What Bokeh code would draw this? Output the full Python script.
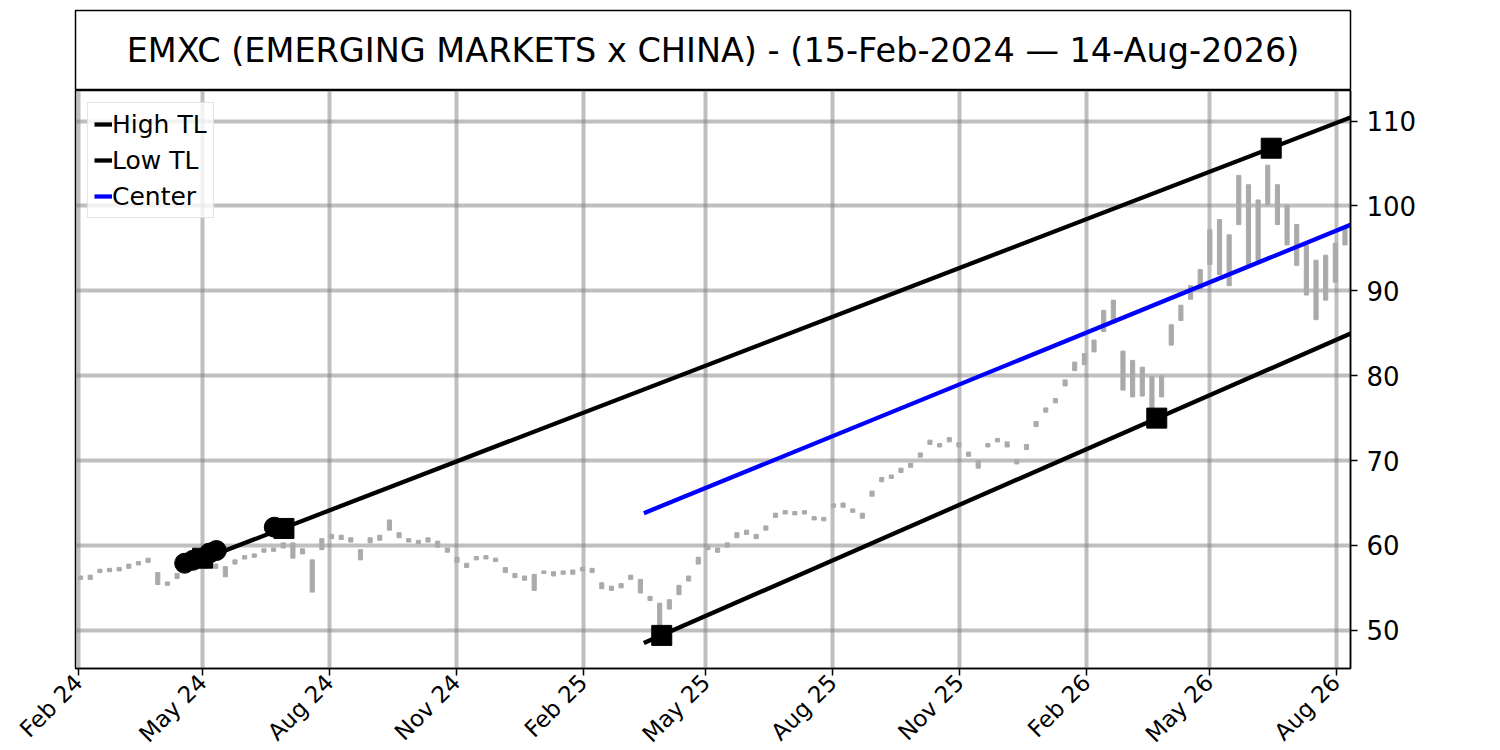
import math
import pandas as pd
from bokeh.plotting import figure
from bokeh.layouts import column
from bokeh.models import Range1d, FixedTicker, Legend, LegendItem, Label, ColumnDataSource, DatetimeTickFormatter
from bokeh.embed import file_html
from bokeh.resources import INLINE

TITLE = "EMXC (EMERGING MARKETS x CHINA) - (15-Feb-2024 \u2014 14-Aug-2026)"

# weekly price ranges (low / high), one entry per week starting at week_start
week_start = "2024-02-01"
lows = [56.0, 56.0, 56.8, 56.9, 57.0, 57.3, 57.7, 58.0, 55.4, 55.3,
        56.1, 57.0, 57.4, 57.3, 57.3, 56.3, 57.8, 58.4, 58.6, 59.2,
        59.3, 59.7, 58.5, 59.0, 54.5, 59.5, 60.8, 60.7, 60.4, 58.3,
        60.3, 60.6, 61.8, 60.9, 60.4, 60.2, 60.4, 59.8, 59.2, 58.0,
        57.4, 58.3, 58.4, 58.1, 56.8, 56.2, 55.9, 54.7, 56.7, 56.4,
        56.6, 56.6, 57.0, 56.8, 54.9, 54.7, 55.0, 56.0, 54.4, 53.5,
        50.2, 52.5, 54.2, 55.8, 57.8, 59.5, 59.2, 59.8, 60.9, 61.3,
        60.8, 61.8, 63.3, 63.7, 63.6, 63.7, 63.0, 62.9, 64.5, 64.5,
        63.9, 63.2, 65.8, 67.5, 67.9, 68.6, 69.2, 70.4, 71.9, 71.6,
        72.2, 71.6, 70.5, 69.1, 71.6, 72.2, 71.6, 69.6, 71.3, 74.0,
        75.7, 76.8, 78.8, 80.6, 81.3, 82.8, 85.2, 86.2, 78.3, 77.5,
        77.6, 75.9, 77.5, 83.6, 86.5, 89.0, 90.2, 93.1, 91.9, 90.6,
        97.8, 93.1, 93.6, 100.1, 97.8, 95.4, 93.0, 89.5, 86.6, 88.9,
        91.0, 95.4]
highs = [56.4, 56.5, 57.2, 57.3, 57.4, 57.8, 58.1, 58.5, 56.8, 55.7,
         56.7, 57.4, 57.8, 57.8, 57.8, 57.5, 58.3, 58.8, 59.0, 59.6,
         59.7, 60.3, 60.3, 59.6, 58.3, 60.8, 61.3, 61.2, 60.9, 59.5,
         60.9, 61.2, 63.0, 61.5, 60.8, 60.6, 60.9, 60.5, 59.7, 58.6,
         57.9, 58.7, 58.8, 58.5, 57.4, 56.7, 56.4, 56.6, 57.0, 56.9,
         57.0, 57.1, 57.4, 57.3, 55.6, 55.2, 55.5, 56.5, 56.0, 54.0,
         53.2, 53.6, 55.3, 56.4, 58.6, 60.0, 59.7, 60.3, 61.5, 61.8,
         61.3, 62.3, 63.8, 64.1, 64.0, 64.1, 63.4, 63.3, 64.9, 65.0,
         64.3, 63.8, 66.4, 68.0, 68.3, 69.1, 69.7, 70.9, 72.4, 72.0,
         72.7, 72.1, 71.0, 70.0, 72.0, 72.6, 72.2, 70.1, 71.9, 74.6,
         76.2, 77.3, 79.5, 81.6, 82.6, 84.2, 87.7, 88.9, 82.9, 81.8,
         81.0, 79.9, 80.0, 86.0, 88.3, 90.6, 92.5, 97.2, 98.4, 96.6,
         103.6, 102.5, 100.7, 104.8, 102.5, 100.1, 97.8, 95.4, 93.6, 94.2,
         95.6, 97.5]

high_tl_dates = ["2024-04-17", "2026-08-12"]
high_tl_vals = [57.5, 110.45]
low_tl_dates = ["2025-03-17", "2026-08-12"]
low_tl_vals = [48.5, 85.0]
center_dates = ["2025-03-17", "2026-08-12"]
center_vals = [63.8, 97.8]

circle_dates = ["2024-04-18", "2024-04-24", "2024-05-06", "2024-05-11", "2024-06-22"]
circle_vals = [57.9, 58.25, 59.1, 59.4, 62.15]
square_dates = ["2024-05-01", "2024-06-29", "2025-03-30", "2026-03-24", "2026-06-15"]
square_vals = [58.5, 62.0, 49.4, 75.0, 106.8]

tick_dates = ["2024-02-01", "2024-05-01", "2024-08-01", "2024-11-01", "2025-02-01",
              "2025-05-01", "2025-08-01", "2025-11-01", "2026-02-01", "2026-05-01",
              "2026-08-01"]
tick_labels = ["Feb 24", "May 24", "Aug 24", "Nov 24", "Feb 25", "May 25",
               "Aug 25", "Nov 25", "Feb 26", "May 26", "Aug 26"]
y_ticks = [50, 60, 70, 80, 90, 100, 110]

x_start = "2024-01-29 20:00"
x_end = "2026-08-11 12:00"
y_min, y_max = 45.5, 113.6

FONT = "DejaVu Sans"
LEFT, RIGHT = 75, 140
FW = 1275

# ---------- title box ----------
pt = figure(frame_width=FW, frame_height=80, x_range=Range1d(0, 1), y_range=Range1d(0, 1),
            output_backend="svg", toolbar_location=None,
            x_axis_location=None, y_axis_location=None,
            min_border_left=LEFT, min_border_right=RIGHT, min_border_top=10, min_border_bottom=0)
pt.grid.visible = False
pt.outline_line_color = "black"
pt.outline_line_width = 1.5
pt.add_layout(Label(x=0.5, y=0.5, text=TITLE, text_align="center", text_baseline="middle",
                    text_font=FONT, text_font_size="33.5px", text_color="black"))

# ---------- main chart ----------
p = figure(frame_width=FW, frame_height=578, x_axis_type="datetime",
           x_range=Range1d(pd.Timestamp(x_start), pd.Timestamp(x_end)),
           y_range=Range1d(y_min, y_max), y_axis_location="right",
           output_backend="svg", toolbar_location=None,
           min_border_left=LEFT, min_border_right=RIGHT, min_border_top=0, min_border_bottom=72)
p.outline_line_color = "black"
p.outline_line_width = 1.5

for g in (p.xgrid[0], p.ygrid[0]):
    g.grid_line_color = "gray"
    g.grid_line_alpha = 0.5
    g.grid_line_width = 4

dates = pd.date_range(week_start, periods=len(lows), freq="7D")
src = ColumnDataSource(dict(left=dates, right=dates + pd.Timedelta(days=3), low=lows, high=highs))
p.quad(left="left", right="right", bottom="low", top="high", source=src,
       fill_color="#aaaaaa", line_color="#aaaaaa", line_width=1)

r_high = p.line(pd.to_datetime(high_tl_dates), high_tl_vals, line_color="black", line_width=4.3)
r_low = p.line(pd.to_datetime(low_tl_dates), low_tl_vals, line_color="black", line_width=4.3)
r_center = p.line(pd.to_datetime(center_dates), center_vals, line_color="blue", line_width=4.3)

p.scatter(pd.to_datetime(circle_dates), circle_vals, marker="circle", size=20,
          fill_color="black", line_color="black")
p.scatter(pd.to_datetime(square_dates), square_vals, marker="square", size=20,
          fill_color="black", line_color="black")

tick_ms = [float(pd.Timestamp(d).value // 10**6) for d in tick_dates]
xax = p.xaxis[0]
yax = p.yaxis[0]
xax.ticker = FixedTicker(ticks=tick_ms)
xax.formatter = DatetimeTickFormatter(days="%b %y", months="%b %y", years="%b %y")
xax.major_label_overrides = {t: l for t, l in zip(tick_ms, tick_labels)}
xax.major_label_orientation = math.pi / 4
yax.ticker = FixedTicker(ticks=y_ticks)

for ax in (xax, yax):
    ax.axis_line_color = "black"
    ax.axis_line_width = 1.5
    ax.major_tick_line_color = "black"
    ax.major_tick_line_width = 1.5
    ax.major_tick_out = 7
    ax.major_tick_in = 0
    ax.minor_tick_out = 0
    ax.minor_tick_in = 0
    ax.major_label_text_font = FONT
    ax.major_label_text_color = "black"
yax.major_label_text_font_size = "26px"
xax.major_label_text_font_size = "23px"
yax.major_label_standoff = 9
xax.major_label_standoff = 3

legend = Legend(items=[LegendItem(label="High TL", renderers=[r_high]),
                       LegendItem(label="Low TL", renderers=[r_low]),
                       LegendItem(label="Center", renderers=[r_center])],
                location="top_left", margin=12, padding=6, spacing=6,
                glyph_width=18, glyph_height=30, label_height=30, label_standoff=0,
                label_text_font=FONT, label_text_font_size="25px", label_text_color="black",
                border_line_color="#cccccc", border_line_width=1.5,
                background_fill_color="white", background_fill_alpha=0.8)
p.add_layout(legend)

layout = column(pt, p, spacing=0)
open("out.html", "w").write(file_html(layout, INLINE))
